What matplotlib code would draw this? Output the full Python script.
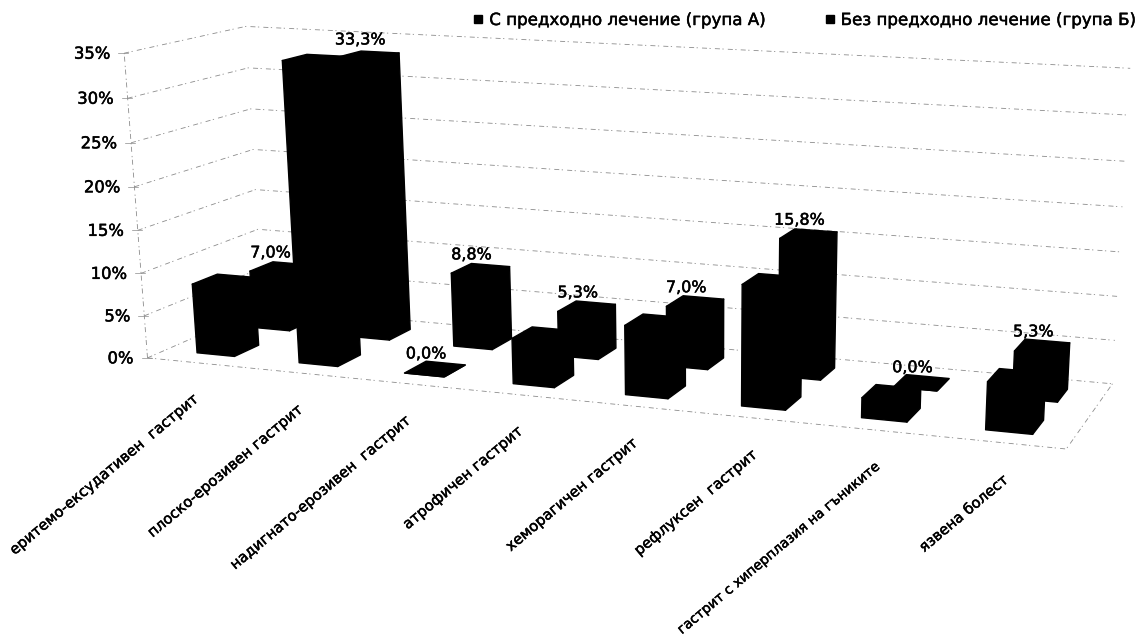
import numpy as np
import matplotlib
matplotlib.use("Agg")
import matplotlib.pyplot as plt
import matplotlib.patheffects as pe
from matplotlib.lines import Line2D
from matplotlib.patches import Polygon

categories = [
    "еритемо-ексудативен  гастрит",
    "плоско-ерозивен гастрит",
    "надигнато-ерозивен  гастрит",
    "атрофичен гастрит",
    "хеморагичен гастрит",
    "рефлуксен  гастрит",
    "гастрит с хиперплазия на гъниките",
    "язвена болест",
]
group_a = [8.2, 34.5, 0.0, 5.2, 7.8, 13.4, 2.2, 5.2]
group_b = [7.0, 33.3, 8.8, 5.3, 7.0, 15.8, 0.0, 5.3]
labelled_a = [False, False, True, False, False, False, False, False]
labelled_b = [True, True, True, True, True, True, True, True]
series_names = ["С предходно лечение (група А)", "Без предходно лечение (група Б)"]
percent_ticks = [0, 5, 10, 15, 20, 25, 30, 35]

# Perspective camera: (category, depth, percent) to canvas pixels, solved from box corners
BOX_CORNERS = [
    ((0, 0, 0), (148, 357)), ((0, 0, 35), (123, 55)), ((8, 0, 0), (1067, 448)),
    ((0, 1, 0), (262, 308)), ((0, 1, 35), (247, 25)), ((8, 1, 0), (1112, 385)),
    ((8, 1, 35), (1130, 68)),
]


def solve_camera(pairs):
    rows, rhs = [], []
    for (x, y, z), (u, v) in pairs:
        rows.append([x, y, z, 1, 0, 0, 0, 0, -u * x, -u * y, -u * z])
        rows.append([0, 0, 0, 0, x, y, z, 1, -v * x, -v * y, -v * z])
        rhs += [u, v]
    sol = np.linalg.lstsq(np.array(rows, float), np.array(rhs, float), rcond=None)[0]
    return np.append(sol, 1.0).reshape(3, 4)


CAM = solve_camera(BOX_CORNERS)


def project(x, y, z):
    p = CAM @ np.array([x, y, z, 1.0])
    return p[0] / p[2], p[1] / p[2]


fig = plt.figure(figsize=(11.37, 6.38), dpi=100)
ax = fig.add_axes([0, 0, 1, 1])
ax.set_xlim(0, 1137)
ax.set_ylim(638, 0)
ax.axis("off")

GRID = dict(color="#8c8c8c", lw=0.6, ls=(0, (6, 3, 1.5, 5)), zorder=1)
INK = [pe.withStroke(linewidth=0.35, foreground="black")]

# Gridlines across the side and back walls
for pct in percent_ticks:
    pts = [project(0, 0, pct), project(0, 1, pct), project(8, 1, pct)]
    ax.plot(*zip(*pts), **GRID)
    x0, y0 = project(0, 0, pct)
    ax.text(x0 - 14, y0 + 1, f"{pct}%", ha="right", va="center",
            fontsize=11.8, color="black", zorder=5, path_effects=INK)
    ax.plot([x0 - 6, x0 + 4], [y0, y0], color="#8c8c8c", lw=0.5, zorder=1)

# Box edges
ax.plot(*zip(project(0, 0, 0), project(0, 0, 35)), **GRID)
ax.plot(*zip(project(0, 0, 0), project(8, 0, 0), project(8, 1, 0)), **GRID)

BAR_LEFT, BAR_WIDTH = 0.31, 0.37
FRONT = (0.15, 0.36)
BACK = (0.64, 0.85)


def draw_bar(cat, y0, y1, value):
    xl, xr = cat + BAR_LEFT, cat + BAR_LEFT + BAR_WIDTH
    faces = [
        [(xl, y0, 0), (xr, y0, 0), (xr, y0, value), (xl, y0, value)],
        [(xr, y0, 0), (xr, y1, 0), (xr, y1, value), (xr, y0, value)],
        [(xl, y0, value), (xr, y0, value), (xr, y1, value), (xl, y1, value)],
    ]
    for face in faces:
        ax.add_patch(Polygon([project(*c) for c in face], closed=True,
                             facecolor="black", edgecolor="black", lw=1.0,
                             joinstyle="round", zorder=3))


def bar_label(cat, span, value):
    x, y = project(cat + BAR_LEFT + BAR_WIDTH / 2, sum(span) / 2, value)
    ax.text(x - 9, y - 15, f"{value:.1f}%".replace(".", ","), ha="center", va="center",
            fontsize=11.5, color="black", zorder=6, path_effects=INK)


for i in range(len(categories)):
    draw_bar(i, *BACK, group_b[i])
    draw_bar(i, *FRONT, group_a[i])

for i in range(len(categories)):
    if labelled_b[i]:
        bar_label(i, BACK, group_b[i])
    if labelled_a[i]:
        bar_label(i, FRONT, group_a[i])

# Category names, slanted below the front edge of the floor
renderer = fig.canvas.get_renderer()
for i, name in enumerate(categories):
    x, y = project(i + BAR_LEFT + BAR_WIDTH / 2, -0.1, 0)
    label = ax.text(x + 7, y + 22, name, rotation=40, rotation_mode="anchor",
                    ha="right", va="top", fontsize=10.6, color="black", zorder=5,
                    path_effects=INK)
    # The longest name must stay on the canvas
    while label.get_window_extent(renderer).y0 < 1:
        label.set_fontsize(label.get_fontsize() - 0.1)

handles = [Line2D([], [], ls="", marker="s", ms=6, color="black") for _ in series_names]
leg = ax.legend(handles, series_names, ncol=2, frameon=False, loc="center right",
                bbox_to_anchor=(1135, 20), bbox_transform=ax.transData,
                fontsize=12, handlelength=1.0, handletextpad=0.16, columnspacing=3.4,
                borderpad=0, borderaxespad=0)
for t in leg.get_texts():
    t.set_path_effects(INK)

fig.savefig("out.png", dpi=100)
